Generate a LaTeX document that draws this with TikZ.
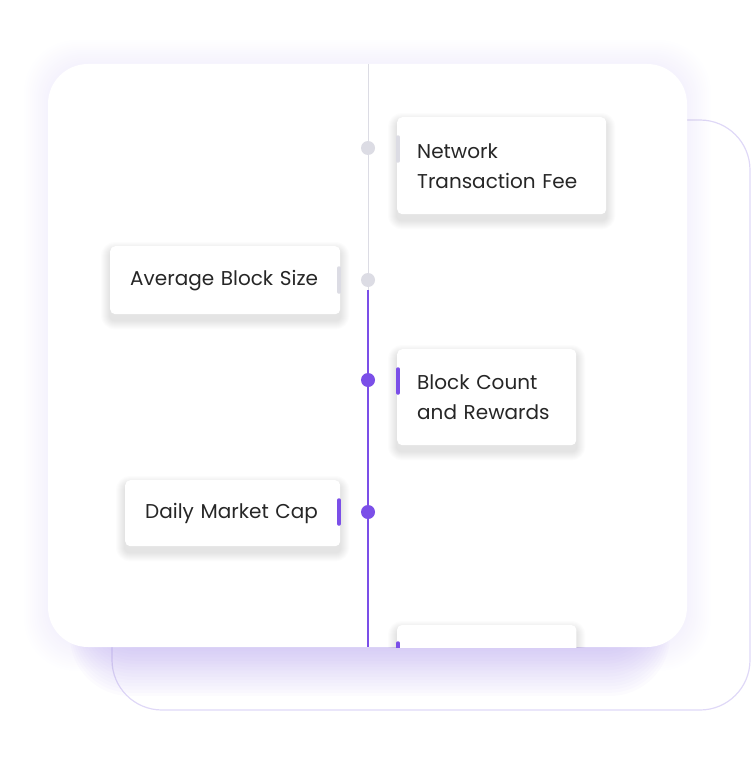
\documentclass[tikz,border=0pt]{standalone}
\usepackage{fontspec}
\setmainfont{Poppins}
\usetikzlibrary{backgrounds,positioning}
\definecolor{violet}{HTML}{7B4FE8}
\definecolor{greyline}{HTML}{DCDCE4}
\definecolor{glow}{HTML}{B9A8EE}
\tikzset{
  card/.style={fill=white, rounded corners=5, anchor=north west, inner xsep=20, inner ysep=0,
    align=left, font=\fontsize{20}{30}\selectfont, text=black!85},
  dot/.style={circle, inner sep=0, minimum size=14},
  accent/.style={line width=3.5, line cap=round}
}
% soft shadow under a card node
\newcommand{\cardshadow}[1]{%
  \foreach \i in {1,...,9}
    \fill[black, opacity=0.012, rounded corners=5+\i]
      ([shift={(-\i,-\i+5)}]#1.north west) rectangle ([shift={(\i,\i+6)}]#1.south east);}
\begin{document}
\begin{tikzpicture}[x=1pt, y=-1pt]
    \useasboundingbox (0,0) rectangle (752,760);
    % Cards
    \node[card, text width=169, minimum height=97] (fee) at (397,117) {Network\\Transaction Fee};
    \node[card, text width=190, minimum height=68] (size) at (110,246) {Average~Block~Size};
    \node[card, text width=175, minimum height=66] (cap) at (125,480) {Daily~Market~Cap};
    \node[card, text width=139, minimum height=96] (count) at (397,349) {Block Count\\and Rewards};

    \begin{scope}[on background layer]
      % Back card outline
      \draw[glow!45, line width=1.2, rounded corners=50] (112,120) rectangle (750,710);
      % Faint haze round the front card
      \foreach \i in {1,...,12}
        \fill[glow, opacity=0.012, rounded corners=40+\i]
          (48-\i*2,64-\i*2) rectangle (687+\i*2,647+\i*2);
      % Glow below the front card
      \foreach \i in {1,...,20}
        \fill[glow, opacity=0.045, rounded corners=40+\i]
          (100-\i*1.5,500) rectangle (640+\i*1.5,632+\i*3.2);
      % Front card
      \fill[white, rounded corners=40] (48,64) rectangle (687,647);
      \cardshadow{fee}
      \cardshadow{size}
      \cardshadow{count}
      \cardshadow{cap}
    \end{scope}

    % Timeline dots
    \node[dot, fill=greyline] (d1) at (368,148) {};
    \node[dot, fill=greyline] (d2) at (368,280) {};
    \node[dot, fill=violet] (d3) at (368,380) {};
    \node[dot, fill=violet] (d4) at (368,512) {};
    \coordinate (top) at (368,64);
    \coordinate (bottom) at (368,647);
    \coordinate (split) at (368,290);

    % Timeline line
    \draw[greyline, line width=1] (top) -- (d1) -- (d2) -- (split);
    \draw[violet, line width=1.2] (split) -- (d3) -- (d4) -- (bottom);

    % Last card, cut by the front card
    \begin{scope}
      \clip (48,64) rectangle (687,647);
      \node[card, text width=139, minimum height=60] (next) at (397,625) {};
      \foreach \i in {1,...,9}
        \fill[black, opacity=0.012, rounded corners=5+\i]
          ([shift={(-\i,-\i+5)}]next.north west) rectangle ([shift={(\i,\i+6)}]next.south east);
      \fill[white, rounded corners=5] (next.north west) rectangle (next.south east);
      \draw[accent, violet] (398,643) -- (398,660);
    \end{scope}

    % Accent bars
    \draw[accent, greyline] (398,137) -- (398,161);
    \draw[accent, greyline] (339,268) -- (339,292);
    \draw[accent, violet] (398,369) -- (398,393);
    \draw[accent, violet] (339,500) -- (339,524);
\end{tikzpicture}
\end{document}
